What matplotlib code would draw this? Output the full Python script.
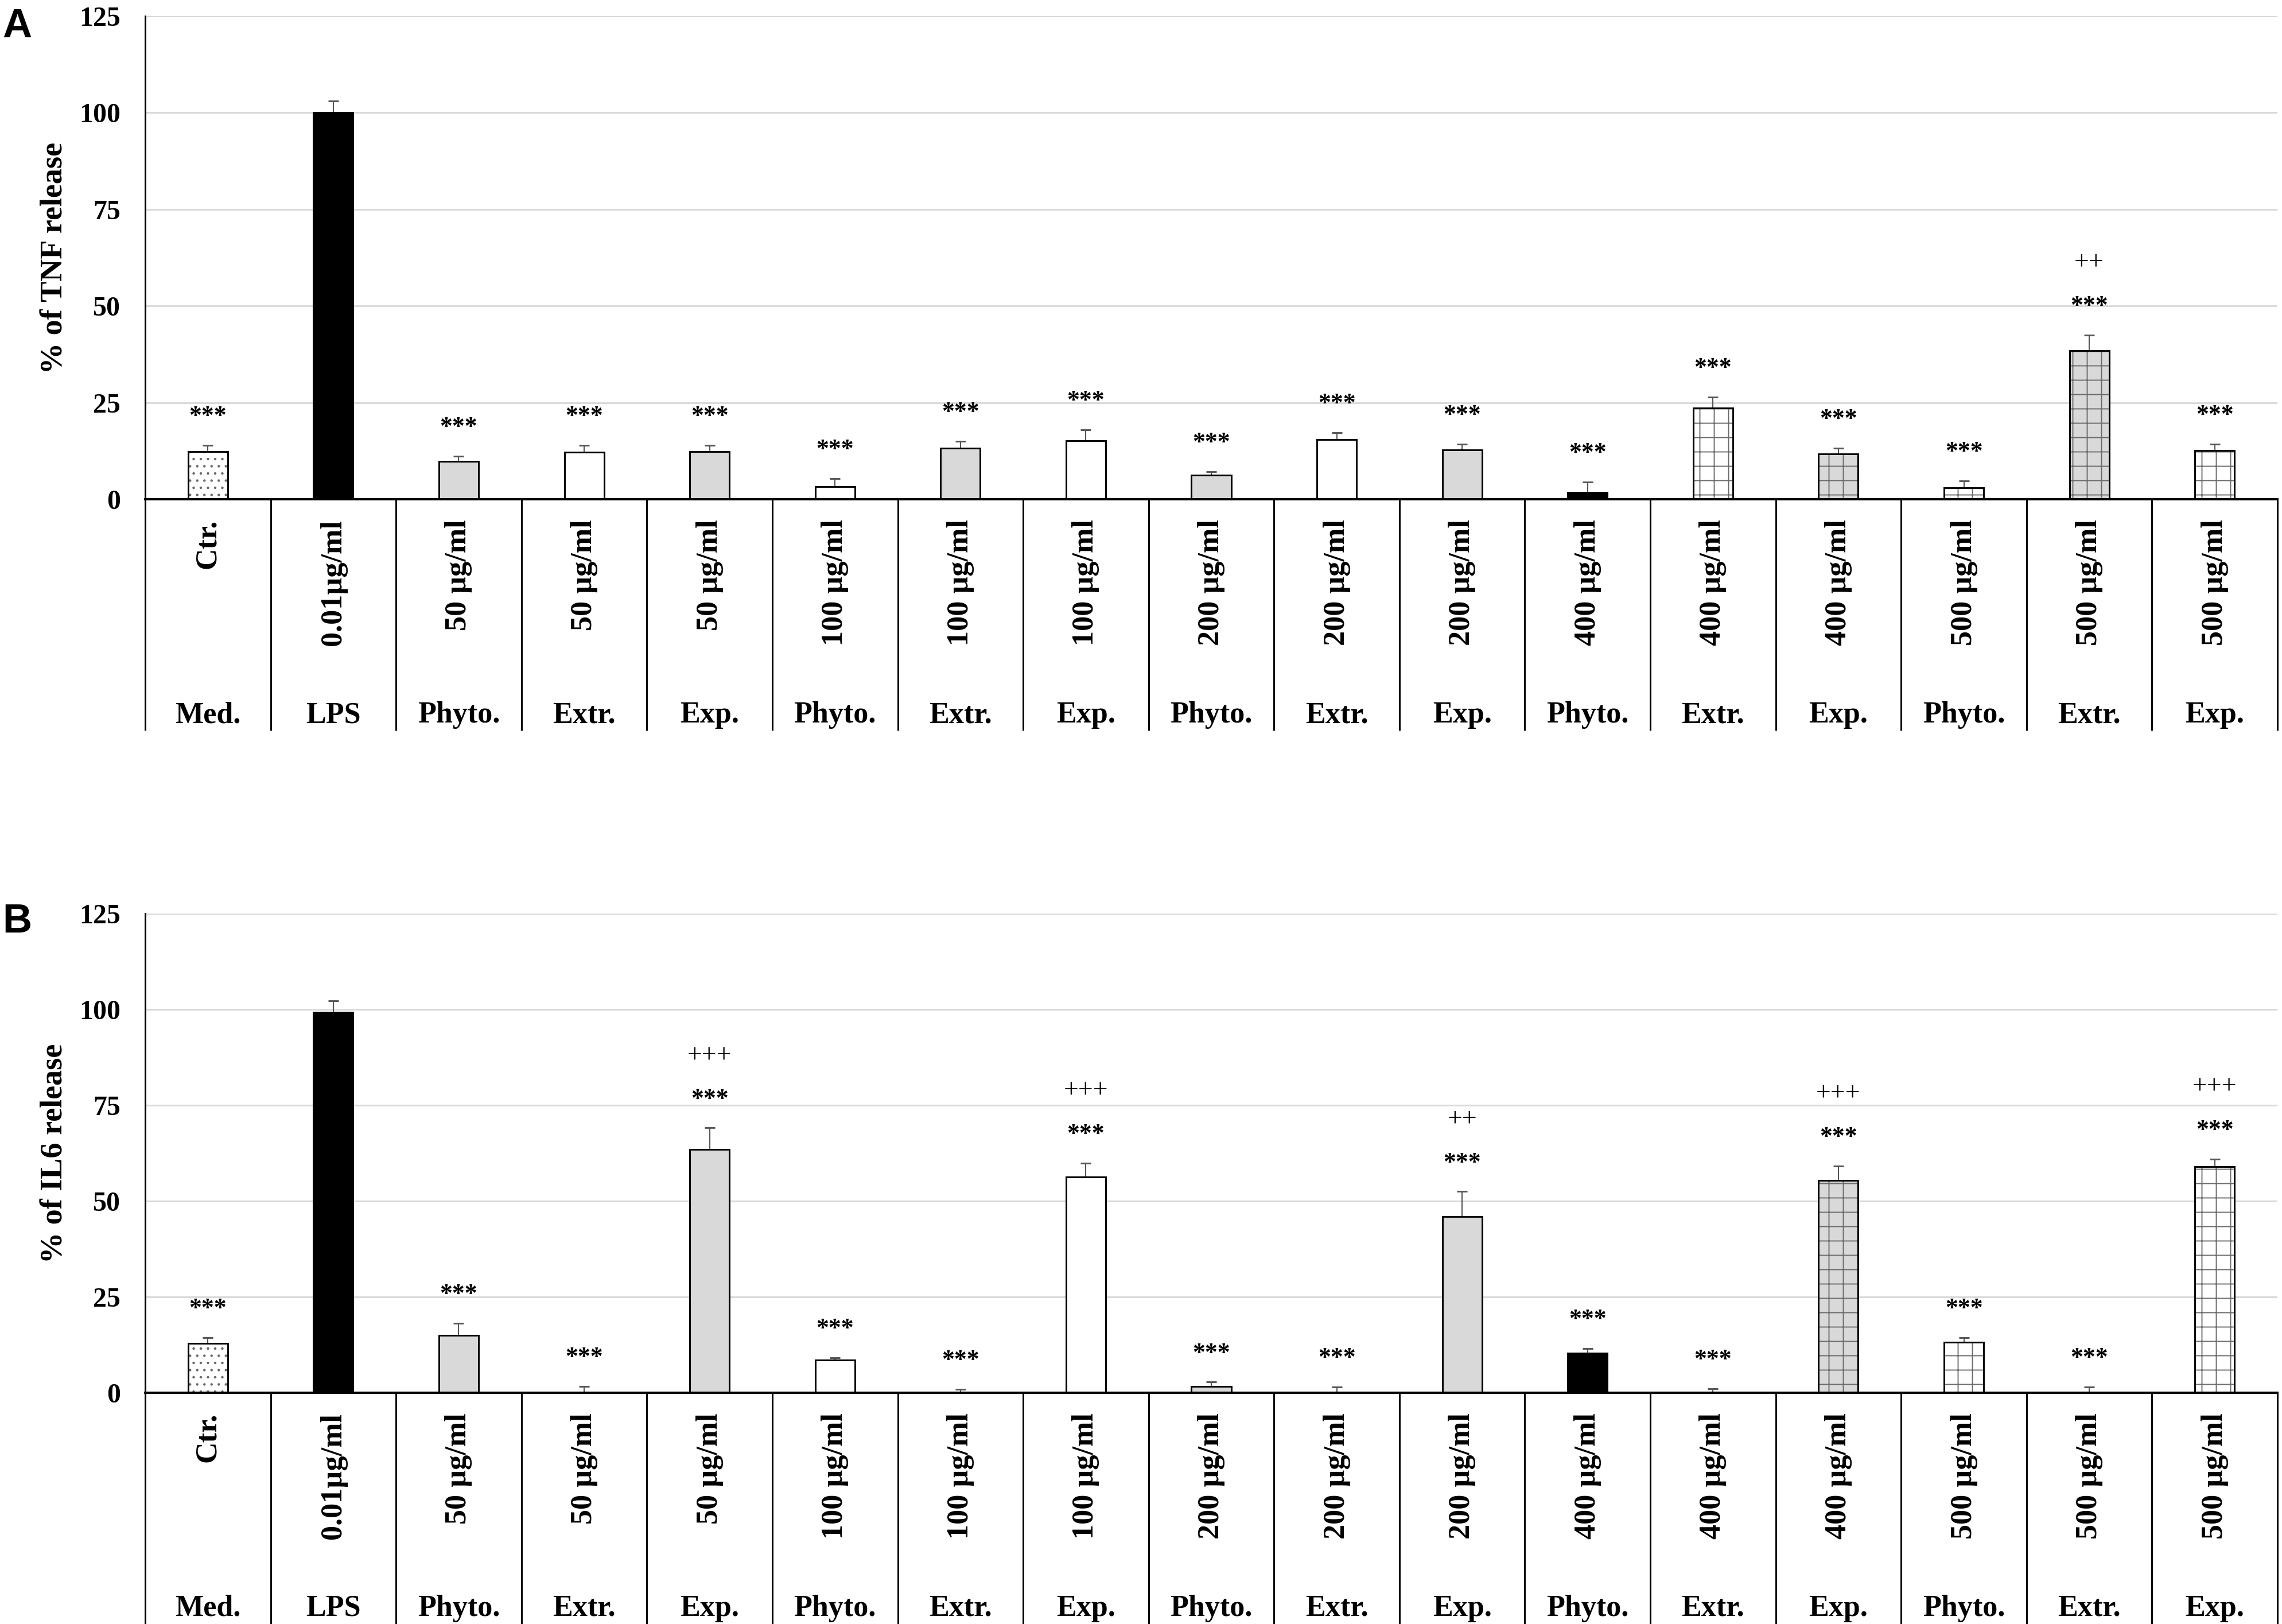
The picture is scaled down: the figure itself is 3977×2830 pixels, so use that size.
import numpy as np
import matplotlib
matplotlib.use('Agg')
import matplotlib.pyplot as plt
from matplotlib import transforms

plt.rcParams['hatch.linewidth'] = 0.9

# categories (two-level x axis)
dose_labels = ['Ctr.', '0.01µg/ml',
               '50 µg/ml', '50 µg/ml', '50 µg/ml',
               '100 µg/ml', '100 µg/ml', '100 µg/ml',
               '200 µg/ml', '200 µg/ml', '200 µg/ml',
               '400 µg/ml', '400 µg/ml', '400 µg/ml',
               '500 µg/ml', '500 µg/ml', '500 µg/ml']
group_labels = ['Med.', 'LPS',
                'Phyto.', 'Extr.', 'Exp.',
                'Phyto.', 'Extr.', 'Exp.',
                'Phyto.', 'Extr.', 'Exp.',
                'Phyto.', 'Extr.', 'Exp.',
                'Phyto.', 'Extr.', 'Exp.']

# panel A : TNF
tnf_mean = [12.3, 100.1, 9.8, 12.1, 12.3, 3.3, 13.2, 15.2, 6.2, 15.4, 12.8,
            1.8, 23.6, 11.8, 2.9, 38.5, 12.6]
tnf_err = [1.6, 3.0, 1.3, 1.8, 1.7, 2.1, 1.8, 2.7, 0.9, 1.8, 1.5,
           2.6, 2.8, 1.4, 1.9, 3.9, 1.7]
tnf_stars = ['***', ''] + ['***'] * 15
tnf_plus = [''] * 15 + ['++', '']

# panel B : IL6
il6_mean = [12.9, 99.3, 14.9, 0.0, 63.4, 8.6, 0.0, 56.3, 1.7, 0.0, 45.9,
            10.4, 0.0, 55.4, 13.2, 0.0, 59.0]
il6_err = [1.5, 3.0, 3.2, 1.7, 5.7, 0.6, 0.9, 3.6, 1.1, 1.5, 6.6,
           1.1, 1.1, 3.8, 1.2, 1.5, 2.0]
il6_stars = ['***', ''] + ['***'] * 15
il6_plus = ['', '', '', '', '+++', '', '', '+++', '', '', '++',
            '', '', '+++', '', '', '+++']

yticks = [0, 25, 50, 75, 100, 125]

# bar styles
GRAY = '#d9d9d9'
fills = ['white', 'black', GRAY, 'white', GRAY, 'white', GRAY, 'white', GRAY,
         'white', GRAY, 'black', 'white', GRAY, 'white', GRAY, 'white']
hatches = ['..', '', '', '', '', '', '', '', '', '', '', '', '+', '+', '+', '+', '+']

W, H, DPI = 3977, 2830, 150
SERIF = 'Liberation Serif'
fig = plt.figure(figsize=(W / DPI, H / DPI), dpi=DPI)


def panel(top_px, zero_px, letter_px, letter, ylabel, means, errs, stars, plus):
    left, right = 253, 3969
    hax = zero_px - top_px
    ax = fig.add_axes([left / W, 1 - zero_px / H, (right - left) / W, hax / H])
    n = len(means)
    x = np.arange(n) + 0.5

    # fill + pattern (pattern drawn in gray), then black outline on top
    pat = ax.bar(x, means, width=0.316, color=fills, edgecolor='#6a6a6a',
                 linewidth=0, zorder=2)
    for b, h in zip(pat, hatches):
        b.set_hatch(h)
    ax.bar(x, means, width=0.316, fill=False, edgecolor='black',
           linewidth=1.4, zorder=2.1)
    ax.errorbar(x, means, yerr=[np.zeros(n), errs], fmt='none', ecolor='#555555',
                elinewidth=1.0, capsize=4.5, capthick=1.4, zorder=1.5)

    for xi, m, e, s, p in zip(x, means, errs, stars, plus):
        top = m + e
        if s:
            ax.text(xi, top + 5.8, s, ha='center', va='baseline', fontsize=21,
                    fontweight='bold', family=SERIF, zorder=3)
        if p:
            ax.text(xi, top + 17.2, p, ha='center', va='baseline', fontsize=22,
                    family=SERIF, zorder=3)

    ax.set_xlim(0, n)
    ax.set_ylim(0, 125)
    ax.set_xticks([])
    ax.set_yticks(yticks)
    ax.tick_params(axis='y', length=0, pad=20.5)
    for lab in ax.get_yticklabels():
        lab.set_fontsize(23)
        lab.set_fontweight('bold')
        lab.set_family(SERIF)
    ax.yaxis.grid(True, color='#d9d9d9', linewidth=1.4)
    ax.set_axisbelow(True)
    for side in ('top', 'right'):
        ax.spines[side].set_visible(False)
    ax.spines['left'].set_linewidth(1.4)
    ax.spines['bottom'].set_linewidth(1.9)

    # category separators and two-level labels
    trans = transforms.blended_transform_factory(ax.transData, ax.transAxes)
    for k in range(n + 1):
        ax.plot([k, k], [0, -403 / hax], transform=trans, color='black',
                lw=1.4, clip_on=False, solid_capstyle='butt')
    for xi, d, g in zip(x, dose_labels, group_labels):
        ax.text(xi, -35 / hax, d, transform=trans, rotation=90, ha='center',
                va='top', fontsize=25, fontweight='bold', family=SERIF)
        ax.text(xi, -389 / hax, g, transform=trans, ha='center',
                va='baseline', fontsize=25, fontweight='bold', family=SERIF)

    ax.text(-(left - 96) / (right - left), 0.5, ylabel, transform=ax.transAxes,
            rotation=90, ha='center', va='center', fontsize=26,
            fontweight='bold', family=SERIF)
    fig.text(4 / W, 1 - letter_px / H, letter, ha='left', va='top',
             fontsize=34, fontweight='bold', family='Liberation Sans')
    return ax


panel(28, 870, 14, 'A', '% of TNF release', tnf_mean, tnf_err, tnf_stars, tnf_plus)
panel(1592, 2427, 1574, 'B', '% of IL6 release', il6_mean, il6_err, il6_stars, il6_plus)

fig.savefig('out.png', dpi=DPI, facecolor='white')
